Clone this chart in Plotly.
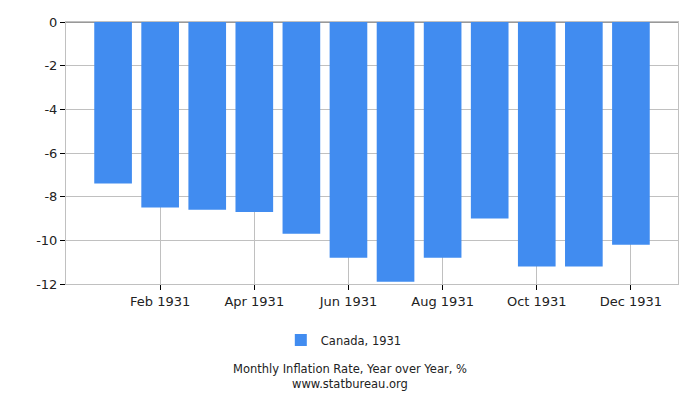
import plotly.graph_objects as go

months = ["Jan 1931", "Feb 1931", "Mar 1931", "Apr 1931", "May 1931", "Jun 1931",
          "Jul 1931", "Aug 1931", "Sep 1931", "Oct 1931", "Nov 1931", "Dec 1931"]
values = [-7.4, -8.5, -8.6, -8.7, -9.7, -10.8, -11.9, -10.8, -9.0, -11.2, -11.2, -10.2]
series_name = "Canada, 1931"
tick_idx = [1, 3, 5, 7, 9, 11]
tick_text = [months[i] for i in tick_idx]
y_ticks = [0, -2, -4, -6, -8, -10, -12]
y_tick_text = ["0", "-2", "-4", "-6", "-8", "-10", "-12"]
caption = "Monthly Inflation Rate, Year over Year, %<br>www.statbureau.org"

font = "DejaVu Sans, Verdana, sans-serif"

fig = go.Figure()
fig.add_trace(go.Bar(
    x=list(range(len(months))), y=values, name=series_name,
    marker=dict(color="#418cf0", line=dict(width=0)),
    width=0.8, showlegend=True,
))

fig.update_layout(
    width=700, height=400,
    margin=dict(l=66, r=22, t=22, b=116, autoexpand=False),
    paper_bgcolor="white", plot_bgcolor="white",
    font=dict(family=font, size=13, color="#222"),
    showlegend=True,
    legend=dict(orientation="h", x=0.351, xanchor="left", y=-0.214, yanchor="middle",
                font=dict(size=11.5, color="#222")),
    xaxis=dict(
        range=[-1, 12], tickmode="array", tickvals=tick_idx, ticktext=tick_text,
        showgrid=True, gridcolor="#c0c0c0", gridwidth=1,
        ticks="outside", ticklen=5, tickcolor="#000",
        showline=True, linecolor="#c0c0c0", mirror=True, zeroline=False,
        tickfont=dict(size=13, color="#222"),
    ),
    yaxis=dict(
        range=[-12, 0], tickmode="array", tickvals=y_ticks, ticktext=y_tick_text,
        showgrid=True, gridcolor="#c0c0c0", gridwidth=1,
        ticks="outside", ticklen=5, tickcolor="#000",
        showline=True, linecolor="#c0c0c0", mirror=True,
        zeroline=True, zerolinecolor="#999", zerolinewidth=2,
        tickfont=dict(size=13, color="#222"),
    ),
    annotations=[
        dict(text=caption, xref="paper", yref="paper",
             x=0.464, y=-0.353, xanchor="center", yanchor="middle", showarrow=False,
             font=dict(size=11.5, color="#222")),
    ],
)

fig.write_html("out.html", config={"displayModeBar": False},
               post_script="document.body.style.margin='0';")
